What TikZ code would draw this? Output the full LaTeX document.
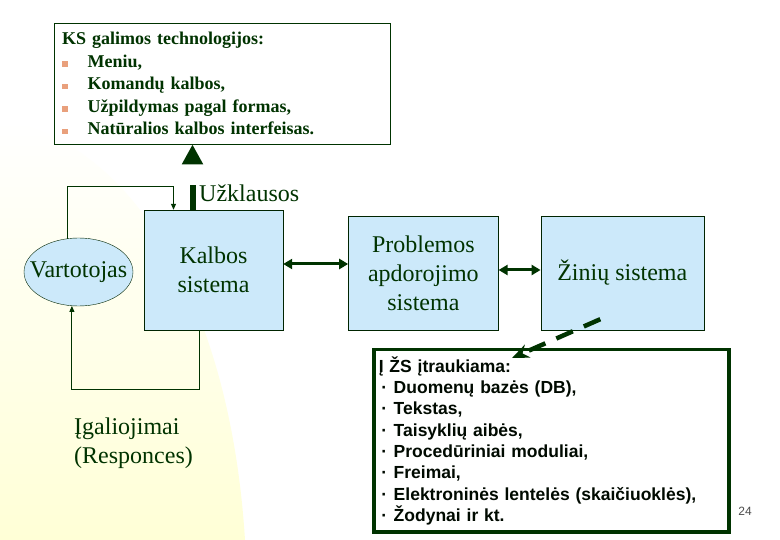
\documentclass[tikz,border=0pt]{standalone}
\usepackage{fontspec}
\setmainfont{Liberation Serif}
\newfontfamily\arialfont{Liberation Sans}
\usetikzlibrary{positioning,shapes.geometric,arrows.meta}
\definecolor{tamsi}{HTML}{003300}
\definecolor{melyna}{HTML}{CCE9FA}
\definecolor{oranz}{HTML}{E9A07C}
\definecolor{geltona}{HTML}{FFFFD6}
\newcommand{\kspunktas}[1]{\textcolor{oranz}{\raisebox{0.5pt}{\rule{5.5pt}{5.5pt}}}\hspace{20pt}#1}
\newcommand{\zstaskas}[1]{\makebox[11pt][c]{·}\hspace{4pt}#1}

\begin{document}
\begin{tikzpicture}[x=1pt,y=-1pt,
  blokas/.style={draw=tamsi!70!black,fill=melyna,inner sep=2pt,align=center,
                 text=tamsi,font=\fontsize{24}{29}\selectfont},
  vartot/.style={ellipse,draw=tamsi!70!black,fill=melyna,inner sep=0pt,
                 minimum width=109pt,minimum height=68pt,text=tamsi,
                 font=\fontsize{24}{29}\selectfont},
  zodis/.style={text=tamsi,inner sep=0pt,align=left,font=\fontsize{24}{29}\selectfont},
  technol/.style={draw=tamsi,fill=white,text width=320pt,inner xsep=8pt,
                  minimum height=121pt,align=left,text=tamsi,
                  font=\bfseries\fontsize{18}{22.5}\selectfont},
  itrauk/.style={draw=tamsi,line width=3.5pt,fill=white,text width=345pt,inner xsep=5pt,
                 minimum height=182pt,align=left,text=black!80!tamsi,
                 font=\arialfont\bfseries\fontsize{17.5}{21.3}\selectfont},
  plona/.style={-{Triangle[length=6pt,width=5pt]},tamsi,line width=0.9pt},
  storas/.style={-{Triangle[length=20pt,width=20pt]},tamsi,line width=6pt,
                 dash pattern=on 25pt off 100pt},
  dvi/.style={{Triangle[length=9pt,width=10pt]}-{Triangle[length=9pt,width=10pt]},
              tamsi,line width=3pt},
  punkt/.style={-{Stealth[length=17pt,width=14pt]},tamsi,line width=4.5pt,
                dash pattern=on 18pt off 12pt}]
% fonas
\fill[white] (0,0) rectangle (780,540);
\useasboundingbox (0,0) rectangle (780,540);
\shade[top color=white,bottom color=geltona]
  (0,120) .. controls (130,140) and (230,300) .. (245,540) -- (0,540) -- cycle;
% blokai
\node[technol,anchor=north west] (tech) at (54,23)
  {KS galimos technologijos:\\
   \kspunktas{Meniu,}\\
   \kspunktas{Komandų kalbos,}\\
   \kspunktas{Užpildymas pagal formas,}\\
   \kspunktas{Natūralios kalbos interfeisas.}};
\node[blokas,minimum width=139pt,minimum height=120pt] (kalba) at (213.5,270) {Kalbos\\sistema};
\node[vartot] (vart) at (78.5,272) {\makebox[0pt][c]{Vartotojas}};
\node[blokas,minimum width=150pt,minimum height=114pt,right=65pt of kalba,yshift=-3pt] (prob)
  {Problemos\\apdorojimo\\sistema};
\node[blokas,minimum width=163pt,minimum height=114pt,right=42pt of prob] (zin) {Žinių sistema};
\node[itrauk,anchor=north west] (isz) at (372,348)
  {Į ŽS įtraukiama:\\
   \zstaskas{Duomenų bazės (DB),}\\
   \zstaskas{Tekstas,}\\
   \zstaskas{Taisyklių aibės,}\\
   \zstaskas{Procedūriniai moduliai,}\\
   \zstaskas{Freimai,}\\
   \zstaskas{Elektroninės lentelės (skaičiuoklės),}\\
   \zstaskas{Žodynai ir kt.}};
% uzrasai
\node[zodis,anchor=west] (uzkl) at (199,193) {Užklausos};
\node[zodis,anchor=west] (igal) at (74,443) {Įgaliojimai\\(Responces)};
\node[font=\arialfont\fontsize{12}{14}\selectfont,text=black!70] (psl) at (745,511) {24};
% rodykles
\draw[plona] (vart.109) |- ([xshift=-40pt,yshift=23pt]kalba.north) -- ([xshift=-40pt]kalba.north);
\draw[plona] ([xshift=-14.5pt]kalba.south) -- ++(0,59) -| (vart.259);
\draw[storas] ([xshift=-21pt]kalba.north) -- ([xshift=-21pt]kalba.north |- tech.south);
\draw[dvi] ([yshift=6pt]kalba.east) -- ([yshift=6pt]kalba.east -| prob.west);
\draw[dvi] ([yshift=3pt]prob.east) -- ([yshift=3pt]zin.west);
\draw[punkt] ([xshift=-22pt,yshift=11pt]zin.south) -- ([xshift=140pt,yshift=-10pt]isz.north west);
\end{tikzpicture}
\end{document}
